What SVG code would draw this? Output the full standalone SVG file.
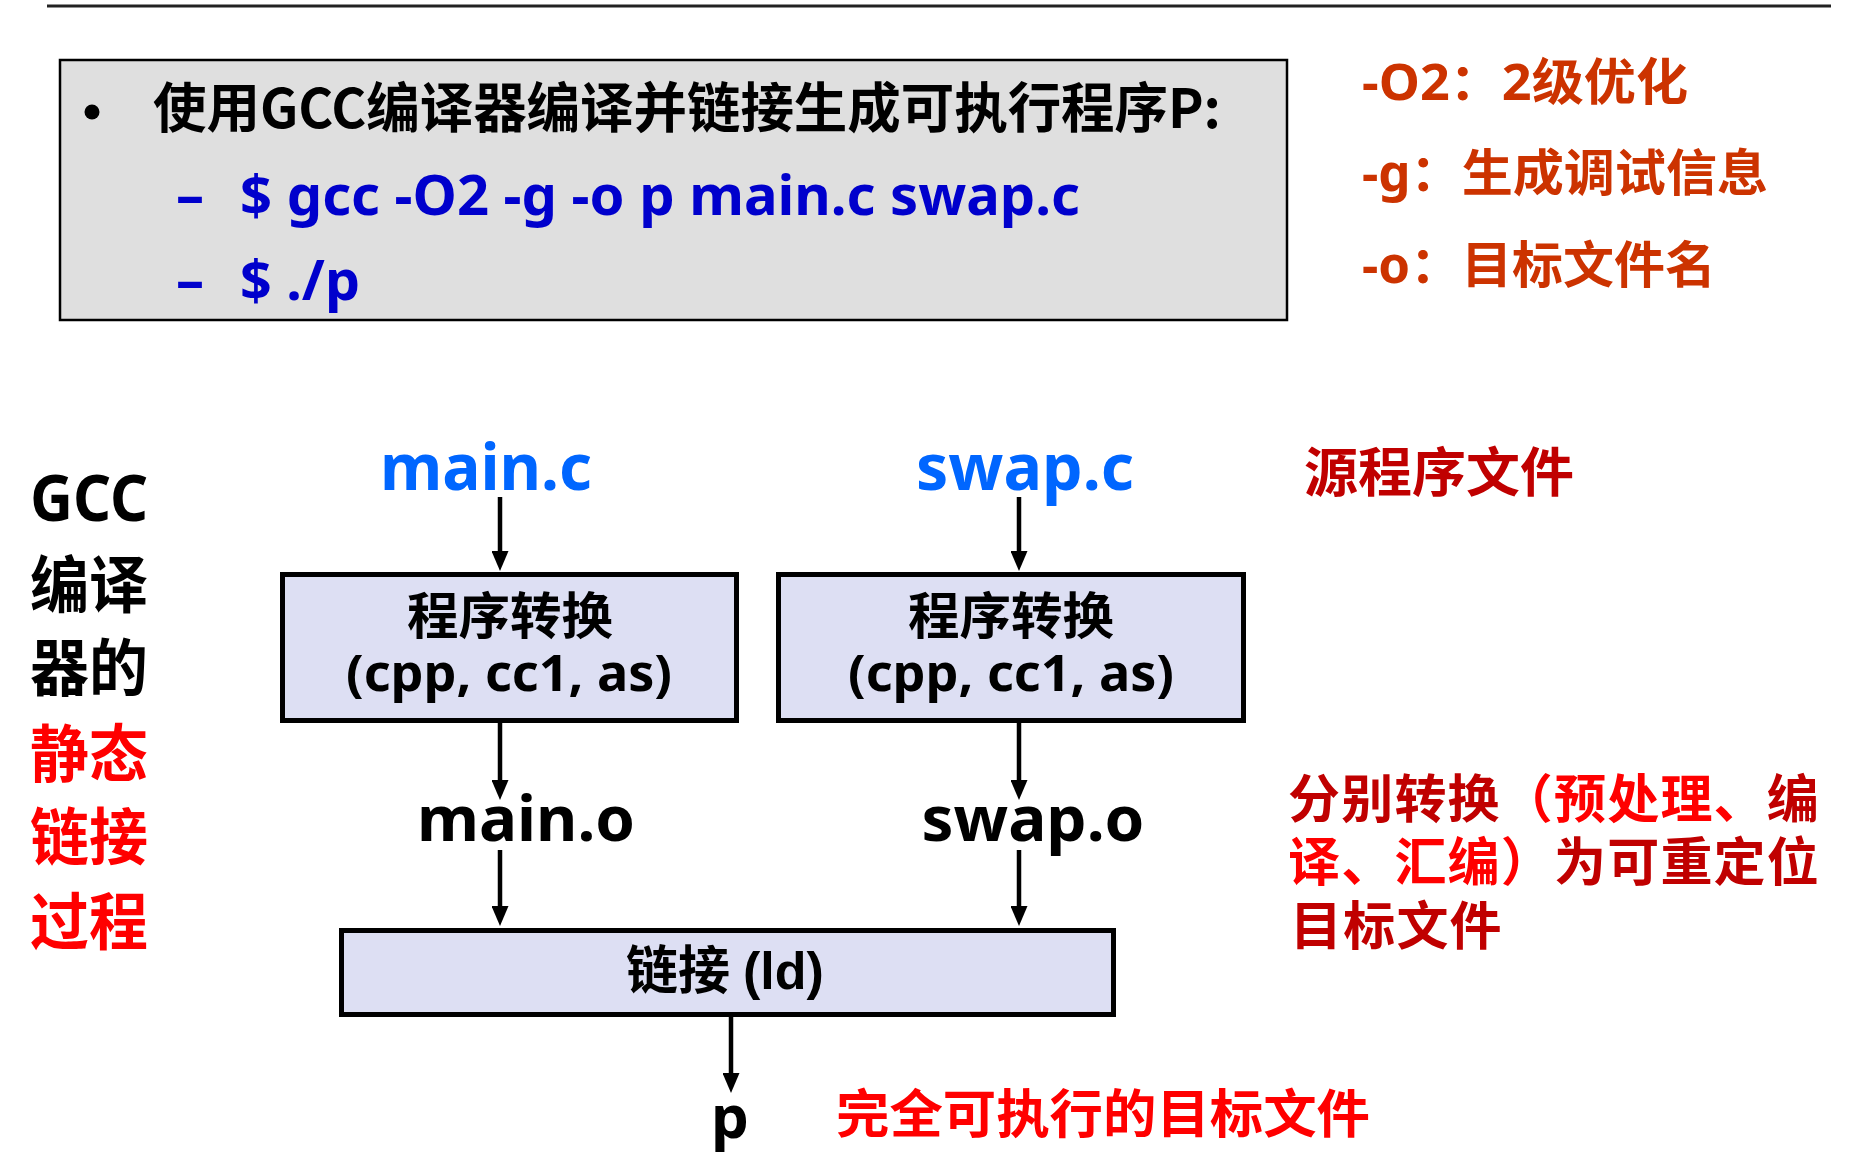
<svg xmlns="http://www.w3.org/2000/svg" width="1858" height="1170" viewBox="0 0 1858 1170">
<style>
.lat{font-family:"Noto Sans","Noto Sans CJK SC",sans-serif;font-weight:bold}
.cjk{font-family:"Noto Sans CJK SC","Noto Sans",sans-serif;font-weight:bold}
.blue{fill:#0000cc}
.org{fill:#cc3300}
.dred{fill:#c00000}
.red{fill:#ff0000}
.node{fill:#dddff3;stroke:#000;stroke-width:5}
.conn line{stroke:#000;stroke-width:4.5;marker-end:url(#ah)}
</style>
<defs>
<marker id="ah" viewBox="0 0 20 17" refX="8" refY="8.5" markerWidth="20" markerHeight="17" markerUnits="userSpaceOnUse" orient="auto">
<path d="M0,0 L20,8.5 L0,17 z" fill="#000"/>
</marker>
</defs>
<rect width="1858" height="1170" fill="#fff"/>
<line x1="47" y1="6" x2="1831" y2="6" stroke="#222" stroke-width="3"/>

<g id="cmdbox">
<rect x="60" y="60" width="1227" height="260" fill="#dfdfdf" stroke="#000" stroke-width="2.5"/>
<circle cx="92" cy="112" r="7.5" fill="#000"/>
<text class="cjk" x="153" y="128" font-size="54" textLength="1068" lengthAdjust="spacingAndGlyphs">使用GCC编译器编译并链接生成可执行程序P:</text>
<text class="lat blue" x="176" y="215" font-size="56">–</text>
<text class="lat blue" x="240" y="215" font-size="56" textLength="840" lengthAdjust="spacingAndGlyphs">$ gcc -O2 -g -o p main.c swap.c</text>
<text class="lat blue" x="176" y="300" font-size="56">–</text>
<text class="lat blue" x="240" y="300" font-size="56" textLength="120" lengthAdjust="spacingAndGlyphs">$ ./p</text>
</g>

<g id="options">
<text class="lat org" x="1362" y="100" font-size="50" textLength="326" lengthAdjust="spacingAndGlyphs">-O2：2级优化</text>
<text class="lat org" x="1362" y="191" font-size="50" textLength="406" lengthAdjust="spacingAndGlyphs">-g：生成调试信息</text>
<text class="lat org" x="1362" y="283" font-size="50" textLength="354" lengthAdjust="spacingAndGlyphs">-o：目标文件名</text>
</g>

<g id="sidelabel">
<text class="lat" x="30" y="521" font-size="64" textLength="118" lengthAdjust="spacingAndGlyphs">GCC</text>
<text class="cjk" x="30" y="608" font-size="62" textLength="118" lengthAdjust="spacingAndGlyphs">编译</text>
<text class="cjk" x="30" y="691" font-size="62" textLength="118" lengthAdjust="spacingAndGlyphs">器的</text>
<text class="cjk red" x="30" y="777" font-size="62" textLength="118" lengthAdjust="spacingAndGlyphs">静态</text>
<text class="cjk red" x="30" y="860" font-size="62" textLength="118" lengthAdjust="spacingAndGlyphs">链接</text>
<text class="cjk red" x="30" y="945" font-size="62" textLength="118" lengthAdjust="spacingAndGlyphs">过程</text>
</g>

<g id="main_c"><text class="lat" x="486" y="490" font-size="64" text-anchor="middle" fill="#0066ff" textLength="212" lengthAdjust="spacingAndGlyphs">main.c</text></g>
<g id="swap_c"><text class="lat" x="1025" y="490" font-size="64" text-anchor="middle" fill="#0066ff" textLength="218" lengthAdjust="spacingAndGlyphs">swap.c</text></g>
<g id="src_label"><text class="cjk dred" x="1304" y="492" font-size="53" textLength="270" lengthAdjust="spacingAndGlyphs">源程序文件</text></g>

<g id="xlate1">
<rect class="node" x="282.5" y="574.5" width="454" height="146"/>
<text class="cjk" x="510" y="634" font-size="50" text-anchor="middle" textLength="206" lengthAdjust="spacingAndGlyphs">程序转换</text>
<text class="lat" x="509" y="691" font-size="50" text-anchor="middle" textLength="326" lengthAdjust="spacingAndGlyphs">(cpp, cc1, as)</text>
</g>
<g id="xlate2">
<rect class="node" x="778.5" y="574.5" width="465" height="146"/>
<text class="cjk" x="1011" y="634" font-size="50" text-anchor="middle" textLength="206" lengthAdjust="spacingAndGlyphs">程序转换</text>
<text class="lat" x="1011" y="691" font-size="50" text-anchor="middle" textLength="326" lengthAdjust="spacingAndGlyphs">(cpp, cc1, as)</text>
</g>

<g id="main_o"><text class="lat" x="526" y="841" font-size="62" text-anchor="middle" textLength="218" lengthAdjust="spacingAndGlyphs">main.o</text></g>
<g id="swap_o"><text class="lat" x="1033" y="841" font-size="62" text-anchor="middle" textLength="223" lengthAdjust="spacingAndGlyphs">swap.o</text></g>

<g id="reloc_label">
<text class="cjk" font-size="52" letter-spacing="1.2"><tspan class="dred" x="1288" y="818">分别转换</tspan><tspan class="red">（预处理、</tspan><tspan class="dred">编</tspan><tspan class="red" x="1288" y="881">译、汇编）</tspan><tspan class="dred">为可重定位</tspan><tspan class="dred" x="1290" y="945">目标文件</tspan></text>
</g>

<g id="link">
<rect class="node" x="341.5" y="930.5" width="772" height="84"/>
<text class="cjk" x="626" y="989" font-size="52">链接</text>
<text x="743" y="989" font-size="52" font-family="'Liberation Sans',sans-serif" font-weight="bold">(ld)</text>
</g>

<g id="p"><text class="lat" x="730" y="1138" font-size="60" text-anchor="middle">p</text></g>
<g id="exe_label"><text class="cjk red" x="836" y="1133" font-size="52" textLength="534" lengthAdjust="spacingAndGlyphs">完全可执行的目标文件</text></g>

<g id="connectors" class="conn">
<line x1="500" y1="497" x2="500" y2="559"/>
<line x1="1019" y1="497" x2="1019" y2="559"/>
<line x1="500" y1="723" x2="500" y2="788"/>
<line x1="1019" y1="723" x2="1019" y2="788"/>
<line x1="500" y1="850" x2="500" y2="914"/>
<line x1="1019" y1="850" x2="1019" y2="914"/>
<line x1="731" y1="1017" x2="731" y2="1081"/>
</g>
</svg>
